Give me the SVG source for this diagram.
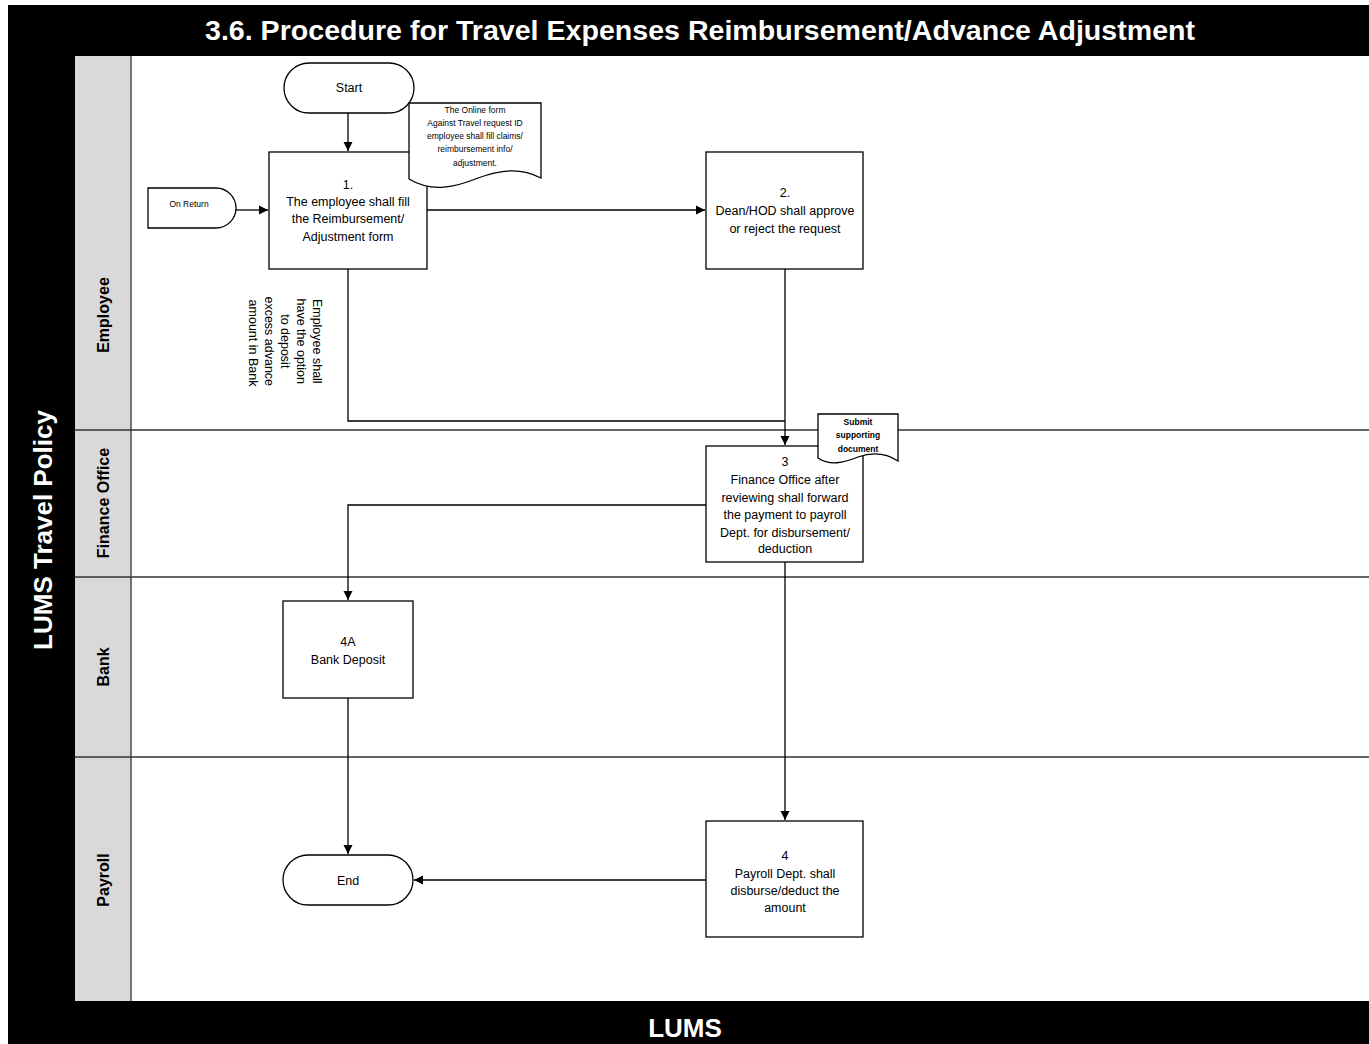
<svg xmlns="http://www.w3.org/2000/svg" width="1369" height="1044" viewBox="0 0 1369 1044">
<defs>
<marker id="arr" markerWidth="10" markerHeight="10" refX="9" refY="5" orient="auto" markerUnits="userSpaceOnUse">
<path d="M0,0.5 L9,5 L0,9.5 Z" fill="#000"/>
</marker>
<style>
.shape{fill:#fff;stroke:#000;stroke-width:1.3}
.lane{stroke:#333;stroke-width:1.3;fill:none}
.t{font-family:"Liberation Sans",Arial,sans-serif;font-size:12.5px;fill:#000;text-anchor:middle}
.s{font-family:"Liberation Sans",Arial,sans-serif;font-size:8.5px;fill:#000;text-anchor:middle}
.sb{font-family:"Liberation Sans",Arial,sans-serif;font-size:8.5px;font-weight:bold;fill:#000;text-anchor:middle}
.hd{font-family:"Liberation Sans",Arial,sans-serif;font-weight:bold;fill:#fff;text-anchor:middle}
.ln{font-family:"Liberation Sans",Arial,sans-serif;font-size:16px;font-weight:bold;fill:#000;text-anchor:middle}
.conn{fill:none;stroke:#000;stroke-width:1.3}
</style>
</defs>
<g id="frame">
<rect x="8" y="5" width="1361" height="1039" fill="#000"/>
<rect x="75" y="56" width="1294" height="945" fill="#fff"/>
<rect x="75" y="56" width="56" height="945" fill="#d9d9d9"/>
<line class="lane" x1="131" y1="56" x2="131" y2="1001"/>
<line class="lane" x1="75" y1="430" x2="1369" y2="430"/>
<line class="lane" x1="75" y1="577" x2="1369" y2="577"/>
<line class="lane" x1="75" y1="757" x2="1369" y2="757"/>
<text class="hd" x="700" y="40" font-size="27" textLength="990" lengthAdjust="spacingAndGlyphs">3.6. Procedure for Travel Expenses Reimbursement/Advance Adjustment</text>
<text class="hd" x="685" y="1037" font-size="26">LUMS</text>
<text class="hd" font-size="26" transform="translate(52,530) rotate(-90)">LUMS Travel Policy</text>
<text class="ln" transform="translate(109,315) rotate(-90)">Employee</text>
<text class="ln" transform="translate(109,503) rotate(-90)">Finance Office</text>
<text class="ln" transform="translate(109,667) rotate(-90)">Bank</text>
<text class="ln" transform="translate(109,880) rotate(-90)">Payroll</text>
</g>
<g id="connectors">
<line class="conn" x1="348" y1="113" x2="348" y2="151" marker-end="url(#arr)"/>
<line class="conn" x1="236" y1="210" x2="268" y2="210" marker-end="url(#arr)"/>
<line class="conn" x1="427" y1="210" x2="705" y2="210" marker-end="url(#arr)"/>
<polyline class="conn" points="348,269 348,421 785,421"/>
<line class="conn" x1="785" y1="269" x2="785" y2="445" marker-end="url(#arr)"/>
<polyline class="conn" points="706,505 348,505 348,600" marker-end="url(#arr)"/>
<line class="conn" x1="785" y1="562" x2="785" y2="820" marker-end="url(#arr)"/>
<line class="conn" x1="348" y1="698" x2="348" y2="854" marker-end="url(#arr)"/>
<line class="conn" x1="706" y1="880" x2="414" y2="880" marker-end="url(#arr)"/>
<text class="t" transform="translate(278,343) rotate(90)">
<tspan x="0" y="-35">Employee shall</tspan>
<tspan x="0" y="-19">have the option</tspan>
<tspan x="0" y="-3">to deposit</tspan>
<tspan x="0" y="13">excess advance</tspan>
<tspan x="0" y="29">amount in Bank</tspan>
</text>
</g>
<g id="start">
<rect class="shape" x="284" y="63" width="130" height="50" rx="25"/>
<text class="t" x="349" y="92">Start</text>
</g>
<g id="onreturn">
<path class="shape" d="M148,188 H216 A20,20 0 0 1 216,228 H148 Z"/>
<text class="s" x="189" y="207">On Return</text>
</g>
<g id="step1">
<rect class="shape" x="269" y="152" width="158" height="117"/>
<text class="t" x="348" y="189">1.</text>
<text class="t" x="348" y="206">The employee shall fill</text>
<text class="t" x="348" y="223">the Reimbursement/</text>
<text class="t" x="348" y="241">Adjustment form</text>
</g>
<g id="note1">
<path class="shape" d="M409,103 H541 V178 C520,167 500,170 478,178 C456,187 432,193 409,179 Z"/>
<text class="s" x="475" y="113">The Online form</text>
<text class="s" x="475" y="126">Against Travel request ID</text>
<text class="s" x="475" y="139">employee shall fill claims/</text>
<text class="s" x="475" y="152">reimbursement info/</text>
<text class="s" x="475" y="166">adjustment.</text>
</g>
<g id="step2">
<rect class="shape" x="706" y="152" width="157" height="117"/>
<text class="t" x="785" y="197">2.</text>
<text class="t" x="785" y="215">Dean/HOD shall approve</text>
<text class="t" x="785" y="233">or reject the request</text>
</g>
<g id="step3">
<rect class="shape" x="706" y="446" width="157" height="116"/>
<text class="t" x="785" y="466">3</text>
<text class="t" x="785" y="484">Finance Office after</text>
<text class="t" x="785" y="502">reviewing shall forward</text>
<text class="t" x="785" y="519">the payment to payroll</text>
<text class="t" x="785" y="537">Dept. for disbursement/</text>
<text class="t" x="785" y="553">deduction</text>
</g>
<g id="note2">
<path class="shape" d="M818,414 H898 V461 C886,453 872,452 858,457 C843,463 830,466 818,458 Z"/>
<text class="sb" x="858" y="425">Submit</text>
<text class="sb" x="858" y="438">supporting</text>
<text class="sb" x="858" y="452">document</text>
</g>
<g id="step4a">
<rect class="shape" x="283" y="601" width="130" height="97"/>
<text class="t" x="348" y="646">4A</text>
<text class="t" x="348" y="664">Bank Deposit</text>
</g>
<g id="end">
<rect class="shape" x="283" y="855" width="130" height="50" rx="25"/>
<text class="t" x="348" y="885">End</text>
</g>
<g id="step4">
<rect class="shape" x="706" y="821" width="157" height="116"/>
<text class="t" x="785" y="860">4</text>
<text class="t" x="785" y="878">Payroll Dept. shall</text>
<text class="t" x="785" y="895">disburse/deduct the</text>
<text class="t" x="785" y="912">amount</text>
</g>
</svg>
